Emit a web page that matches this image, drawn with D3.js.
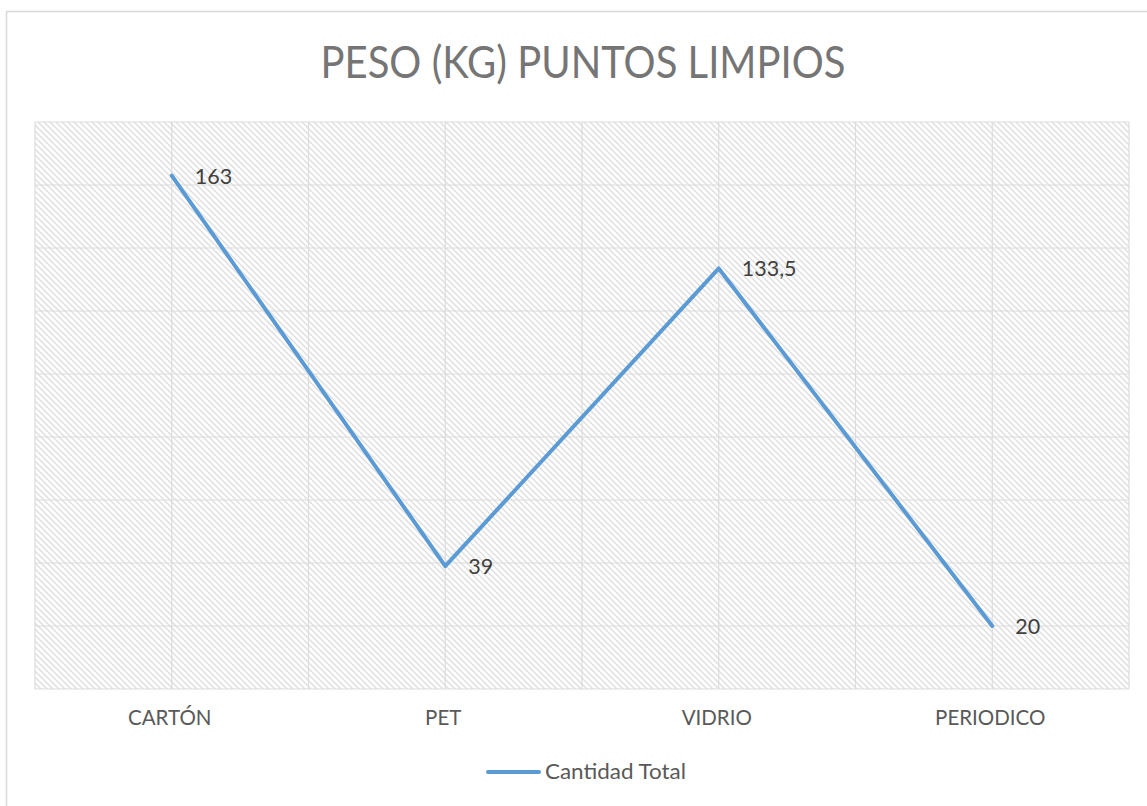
<!DOCTYPE html>
<html>
<head>
<meta charset="utf-8">
<script src="https://cdn.jsdelivr.net/npm/d3@7"></script>
<style>
  html, body { margin: 0; padding: 0; background: #fff; }
  svg { display: block; font-family: Lato, "Open Sans", "Noto Sans", sans-serif; }
</style>
</head>
<body>
<svg id="chart" width="1147" height="806"></svg>
<script>
// Weight collected per material at the clean points
const categories = ["CARTÓN", "PET", "VIDRIO", "PERIODICO"];
const values = [163, 39, 133.5, 20];
const valueLabels = ["163", "39", "133,5", "20"];
const seriesName = "Cantidad Total";
const chartTitle = "PESO (KG) PUNTOS LIMPIOS";
const yTicks = [0, 20, 40, 60, 80, 100, 120, 140, 160, 180];

const svg = d3.select("#chart");
const W = 1147, H = 806;
const plot = { left: 35, right: 1129, top: 122, bottom: 689 };

// Outer chart frame
svg.append("rect")
  .attr("x", 6.5).attr("y", 11.5)
  .attr("width", W + 10).attr("height", H + 10)
  .attr("fill", "#fff").attr("stroke", "#d9d9d9").attr("stroke-width", 1.5);

// Diagonal hatch fill for the plot area
const defs = svg.append("defs");
const pat = defs.append("pattern")
  .attr("id", "hatch").attr("patternUnits", "userSpaceOnUse")
  .attr("width", 6).attr("height", 6);
pat.append("rect").attr("width", 6).attr("height", 6).attr("fill", "#fff");
pat.append("path")
  .attr("d", "M-1,-1 L7,7 M-1,5 L1,7 M5,-1 L7,1")
  .attr("stroke", "#dedede").attr("stroke-width", 1.4);

const x = d3.scalePoint().domain(categories)
  .range([plot.left, plot.right]).padding(0.5);
const band = (plot.right - plot.left) / categories.length;
const y = d3.scaleLinear().domain([0, 180]).range([plot.bottom, plot.top]);

svg.append("rect")
  .attr("x", plot.left).attr("y", plot.top)
  .attr("width", plot.right - plot.left).attr("height", plot.bottom - plot.top)
  .attr("fill", "url(#hatch)");

// Horizontal gridlines
const grid = svg.append("g").attr("stroke", "#dcdcdc").attr("stroke-width", 1.2);
grid.selectAll("line.h").data(yTicks).join("line")
  .attr("class", "h")
  .attr("x1", plot.left).attr("x2", plot.right)
  .attr("y1", d => y(d)).attr("y2", d => y(d));

// Vertical gridlines at category centres and band edges
const vPos = [];
categories.forEach(c => { vPos.push(x(c) - band / 2, x(c)); });
vPos.push(plot.right);
grid.selectAll("line.v").data(vPos).join("line")
  .attr("class", "v")
  .attr("x1", d => d).attr("x2", d => d)
  .attr("y1", plot.top).attr("y2", plot.bottom);

// Category axis labels
svg.append("g").selectAll("text").data(categories).join("text")
  .attr("x", d => x(d) - 2).attr("y", 725)
  .attr("text-anchor", "middle")
  .attr("fill", "#595959").attr("font-size", 20.5)
  .text(d => d);

// Series line
const line = d3.line().x((d, i) => x(categories[i])).y(d => y(d));
svg.append("path").datum(values)
  .attr("d", line)
  .attr("fill", "none").attr("stroke", "#5b9bd5")
  .attr("stroke-width", 4).attr("stroke-linejoin", "round").attr("stroke-linecap", "round");

// Data labels
svg.append("g").selectAll("text").data(values).join("text")
  .attr("x", (d, i) => x(categories[i]) + 23)
  .attr("y", d => y(d) + 8)
  .attr("fill", "#404040").attr("font-size", 21.5)
  .text((d, i) => valueLabels[i]);

// Title
svg.append("text")
  .attr("x", 583).attr("y", 78)
  .attr("text-anchor", "middle")
  .attr("fill", "#757575").attr("font-size", 44)
  .attr("textLength", 525).attr("lengthAdjust", "spacingAndGlyphs")
  .text(chartTitle);

// Legend
const lg = svg.append("g");
lg.append("line")
  .attr("x1", 488).attr("x2", 539).attr("y1", 772).attr("y2", 772)
  .attr("stroke", "#5b9bd5").attr("stroke-width", 4).attr("stroke-linecap", "round");
lg.append("text")
  .attr("x", 545).attr("y", 779)
  .attr("fill", "#595959").attr("font-size", 21)
  .attr("textLength", 141).attr("lengthAdjust", "spacingAndGlyphs")
  .text(seriesName);
</script>
</body>
</html>
